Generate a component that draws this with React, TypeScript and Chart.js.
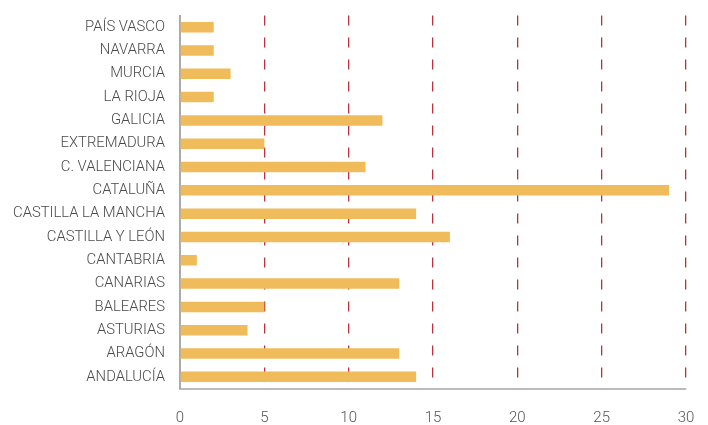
import React, { useEffect, useRef } from "react";
import { Chart, registerables } from "chart.js";

Chart.register(...registerables);

const categories = [
  "PAÍS VASCO",
  "NAVARRA",
  "MURCIA",
  "LA RIOJA",
  "GALICIA",
  "EXTREMADURA",
  "C. VALENCIANA",
  "CATALUÑA",
  "CASTILLA LA MANCHA",
  "CASTILLA Y LEÓN",
  "CANTABRIA",
  "CANARIAS",
  "BALEARES",
  "ASTURIAS",
  "ARAGÓN",
  "ANDALUCÍA",
];
const values = [2, 2, 3, 2, 12, 5, 11, 29, 14, 16, 1, 13, 5, 4, 13, 14];
const xMin = 0;
const xMax = 30;
const xStep = 5;

export default function App() {
  const ref = useRef<HTMLCanvasElement | null>(null);
  useEffect(() => {
    document.body.style.margin = "0";
    const ctx = ref.current!;
    const chart = new Chart(ctx, {
      type: "bar",
      data: {
        labels: categories,
        datasets: [
          {
            data: values,
            backgroundColor: "#F0BB5A",
            barPercentage: 0.45,
            categoryPercentage: 1,
          },
        ],
      },
      options: {
        indexAxis: "y",
        animation: false,
        responsive: false,
        maintainAspectRatio: false,
        layout: { padding: { top: 15.5, right: 22, left: 0, bottom: 0 } },
        plugins: { legend: { display: false }, tooltip: { enabled: false } },
        scales: {
          x: {
            min: xMin,
            max: xMax,
            afterFit: (s: any) => {
              s.height = 36.5;
              s.paddingLeft = 0;
              s.paddingRight = 0;
            },
            ticks: {
              stepSize: xStep,
              padding: 20.5,
              color: "#555555",
              font: { family: "Roboto", size: 15, weight: "300" as any },
            },
            grid: {
              drawTicks: false,
              color: (c: any) => (c.tick && c.tick.value === 0 ? "rgba(0,0,0,0)" : "#B8333A"),
              lineWidth: 1.3,
            },
            border: { display: true, color: "#BBBBBB", width: 2, dash: [10, 12] },
          },
          y: {
            afterFit: (s: any) => {
              s.width = 180;
              s.paddingTop = 0;
              s.paddingBottom = 0;
            },
            ticks: {
              padding: 15,
              color: "#4A4A4A",
              font: { family: "Roboto", size: 14.8, weight: "300" as any },
            },
            grid: { display: false, drawTicks: false },
            border: { display: true, color: "#AAAAAA", width: 2 },
          },
        },
      },
    });
    return () => chart.destroy();
  }, []);
  return (
    <div style={{ width: 708, height: 425 }}>
      <canvas ref={ref} width={708} height={425} style={{ display: "block" }} />
    </div>
  );
}
